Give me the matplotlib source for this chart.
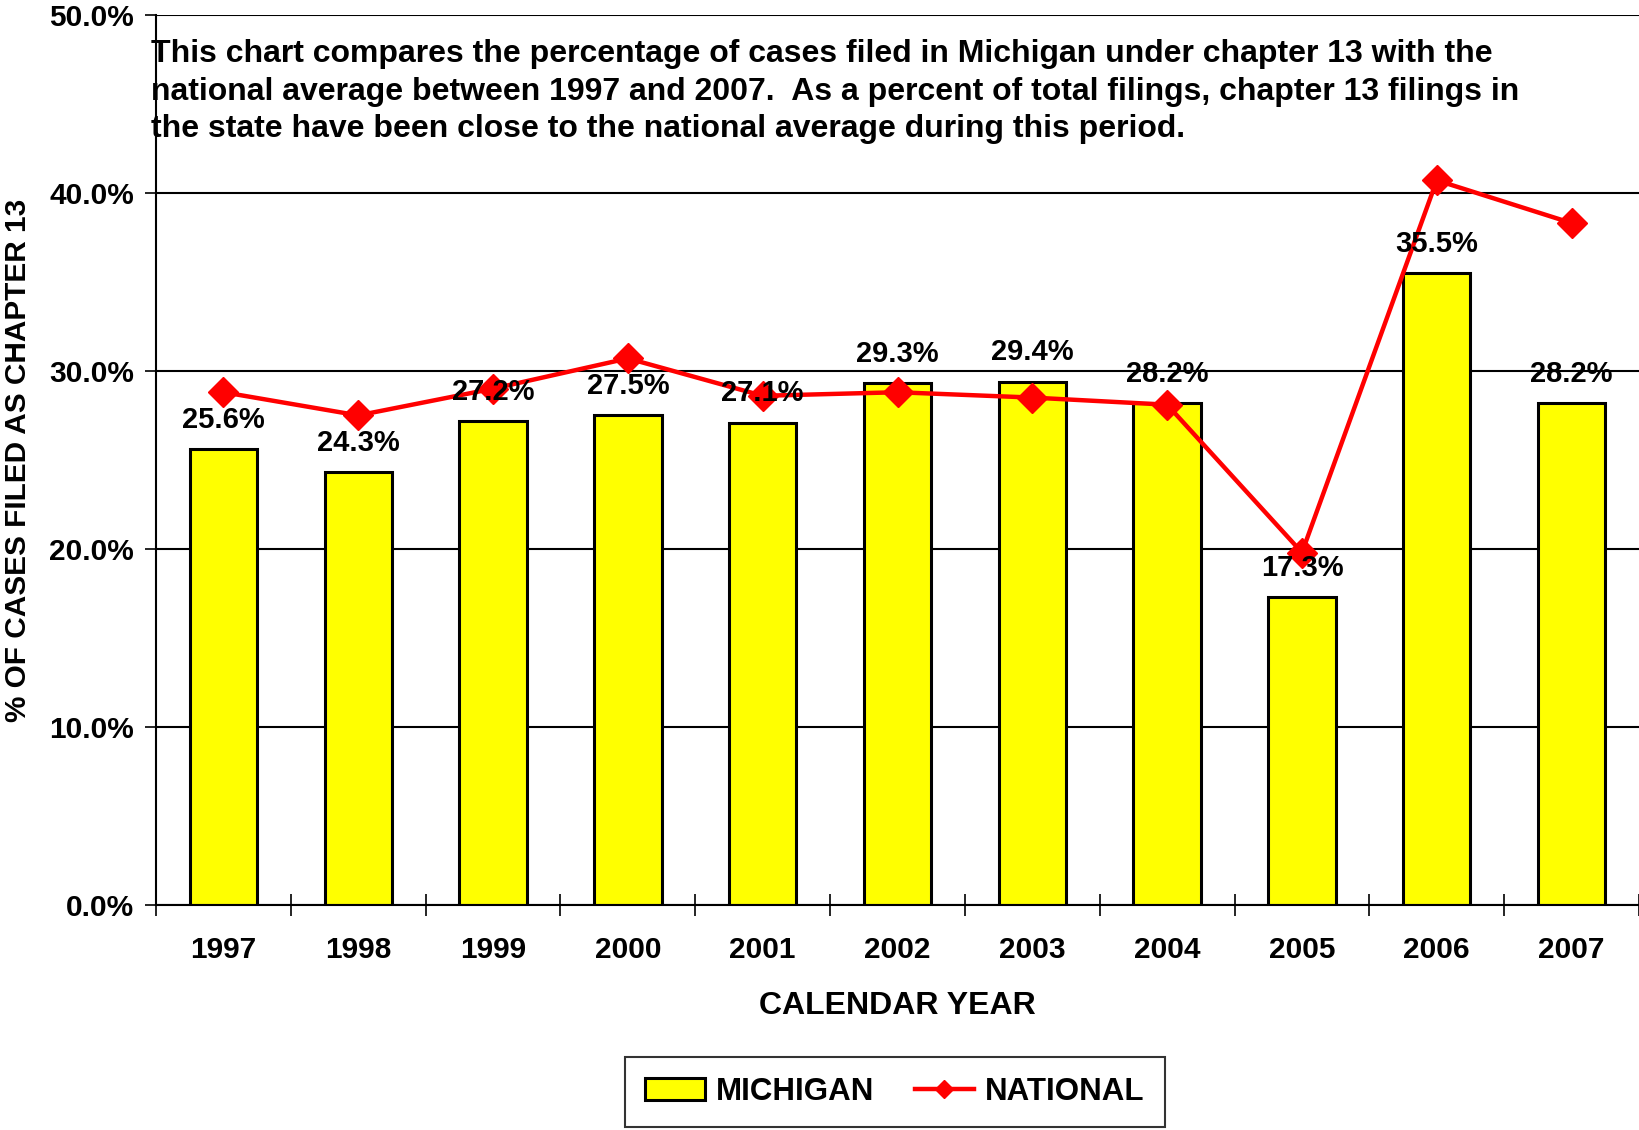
import numpy as np
import matplotlib.pyplot as plt
from matplotlib.ticker import FixedLocator, PercentFormatter

plt.rcParams['font.family'] = ['Liberation Sans', 'DejaVu Sans']
plt.rcParams['font.weight'] = 'bold'

years = ['1997', '1998', '1999', '2000', '2001', '2002', '2003', '2004', '2005', '2006', '2007']
michigan = [25.6, 24.3, 27.2, 27.5, 27.1, 29.3, 29.4, 28.2, 17.3, 35.5, 28.2]
national = [28.8, 27.5, 29.0, 30.7, 28.6, 28.8, 28.5, 28.1, 19.8, 40.7, 38.3]

note = ("This chart compares the percentage of cases filed in Michigan under chapter 13 with the\n"
        "national average between 1997 and 2007.  As a percent of total filings, chapter 13 filings in\n"
        "the state have been close to the national average during this period.")

fig = plt.figure(figsize=(16.39, 11.30), dpi=100)
ax = fig.add_axes([0.0952, 0.199, 0.9048, 0.788])

x = np.arange(len(years))
bars = ax.bar(x, michigan, width=0.5, color='#ffff00', edgecolor='black', linewidth=2.2,
              label='MICHIGAN', zorder=2)
line, = ax.plot(x, national, color='#ff0000', linewidth=3.2, marker='D', markersize=15,
                label='NATIONAL', zorder=3)

for xi, v in zip(x, michigan):
    ax.annotate(f'{v:.1f}%', (xi, v), xytext=(0, 21), textcoords='offset points',
                ha='center', va='center', fontsize=21, fontweight='bold', zorder=4)

ax.set_xlim(-0.5, len(years) - 0.5)
ax.set_ylim(0, 50)
ax.yaxis.set_major_locator(FixedLocator([0, 10, 20, 30, 40, 50]))
ax.yaxis.set_major_formatter(PercentFormatter(decimals=1))
ax.grid(axis='y', color='black', linewidth=1.5, zorder=0)
ax.set_axisbelow(True)

ax.set_xticks(x)
ax.set_xticklabels(years)
ax.xaxis.set_minor_locator(FixedLocator(np.arange(-0.5, len(years), 1.0)))
ax.tick_params(axis='x', which='major', length=0, pad=22, labelsize=21.5)
ax.tick_params(axis='x', which='minor', length=16, direction='inout', width=1.2)
ax.tick_params(axis='y', length=8, direction='out', width=1.2, pad=8, labelsize=21.5)

for s in ['top', 'right']:
    ax.spines[s].set_visible(False)
ax.spines['left'].set_linewidth(1.5)
ax.spines['bottom'].set_linewidth(1.5)

ax.set_xlabel('CALENDAR YEAR', fontsize=23, fontweight='bold', labelpad=20)
ax.set_ylabel('% OF CASES FILED AS CHAPTER 13', fontsize=21.4, fontweight='bold', labelpad=12)

fig.text(151 / 1639, 1 - 39 / 1130, note, fontsize=23, fontweight='bold', va='top', ha='left',
         linespacing=1.33)

leg = fig.legend([bars, line], ['MICHIGAN', 'NATIONAL'], loc='center',
                 bbox_to_anchor=(895 / 1639, 1 - 1092 / 1130), ncol=2,
                 fontsize=22.5, frameon=True, fancybox=False, edgecolor='black',
                 handlelength=1.9, handletextpad=0.35, columnspacing=1.3, borderpad=0.65,
                 markerscale=0.6)
leg.get_frame().set_linewidth(1.5)

fig.savefig('out.png', dpi=100)
